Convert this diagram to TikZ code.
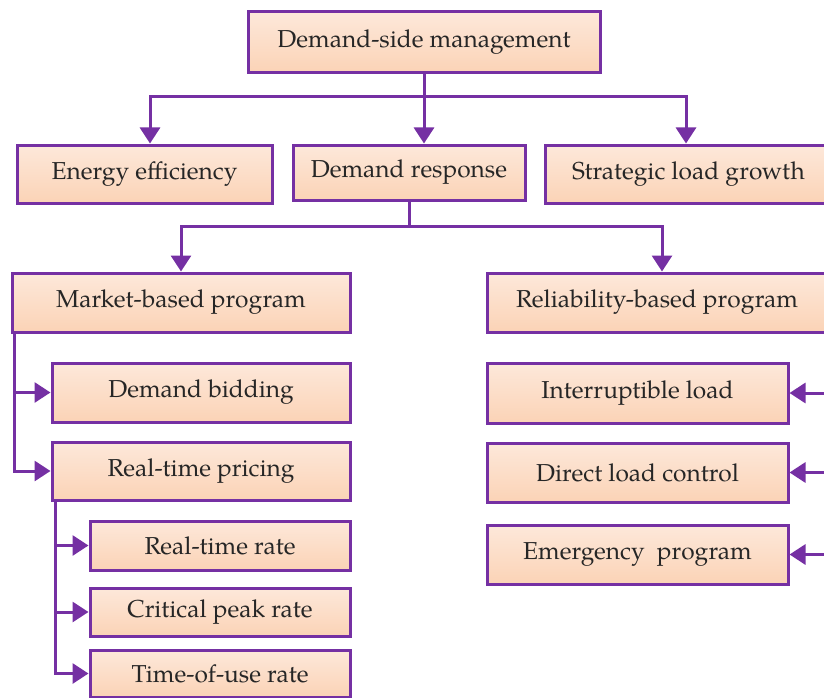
\documentclass[tikz,border=0pt]{standalone}
\usepackage{fontspec}
\setmainfont{TeX Gyre Pagella}
\usetikzlibrary{arrows.meta,shadows}
\definecolor{purp}{HTML}{7530A3}
\definecolor{peachtop}{HTML}{FDE8DA}
\definecolor{peachbot}{HTML}{FBD3B6}
\tikzset{
  box/.style={draw=purp, line width=3pt, top color=peachtop, bottom color=peachbot,
    inner sep=0pt, font=\fontsize{24.5}{28}\selectfont, text=black!85,
    drop shadow={shadow xshift=1.5pt, shadow yshift=-1.5pt, fill=black!25}},
  conn/.style={draw=purp, line width=3pt},
  arr/.style={conn, -{Triangle[length=16pt,width=20pt]}},
}
\begin{document}
\begin{tikzpicture}[x=1pt,y=-1pt]
\useasboundingbox (0,0) rectangle (824,698);
\clip (0,0) rectangle (824,698);
\node[box, minimum width=352pt, minimum height=61pt] (dsm) at (424,42.5) {Demand-side management};
\node[box, minimum width=255pt, minimum height=58pt] (ee) at (144.5,174) {Energy efficiency};
\node[box, minimum width=232pt, minimum height=55pt] (dr) at (409,172.5) {Demand response};
\node[box, minimum width=287pt, minimum height=58pt] (slg) at (688.5,174) {Strategic load growth};
\node[box, minimum width=338pt, minimum height=59pt] (mbp) at (181,302.5) {Market-based program};
\node[box, minimum width=340pt, minimum height=59pt] (rbp) at (657,302.5) {Reliability-based program};
\node[box, minimum width=298pt, minimum height=59pt] (db) at (201,392.5) {Demand bidding};
\node[box, minimum width=298pt, minimum height=58pt] (rtp) at (201,471) {Real-time pricing};
\node[box, minimum width=260pt, minimum height=49pt] (rtr) at (220,545.5) {Real-time rate};
\node[box, minimum width=260pt, minimum height=48pt] (cpr) at (220,612) {Critical peak rate};
\node[box, minimum width=260pt, minimum height=47pt] (tou) at (220,673.5) {Time-of-use rate};
\node[box, minimum width=301pt, minimum height=60pt] (il) at (637.5,393) {Interruptible load};
\node[box, minimum width=301pt, minimum height=59pt] (dlc) at (637.5,472.5) {Direct load control};
\node[box, minimum width=301pt, minimum height=59pt] (ep) at (637.5,554.5) {Emergency\ \ program};
% top level
\coordinate (j1) at (424,97);
\draw[conn] (dsm.south) -- (j1);
\draw[arr] (j1) -| (ee.north -| 150,0);
\draw[arr] (j1) -- (dr.north -| j1);
\draw[arr] (j1) -| (slg.north -| 686,0);
% demand response
\coordinate (j2) at (409,226);
\draw[conn] (dr.south) -- (j2);
\draw[arr] (j2) -| (mbp.north);
\draw[arr] (j2) -| (rbp.north -| 662,0);
% market-based
\coordinate (b1) at (14,332);
\draw[arr] (b1) |- (db.west);
\draw[arr] (b1) |- (rtp.west);
% real-time pricing
\coordinate (b2) at (55,500);
\draw[arr] (b2) |- (rtr.west);
\draw[arr] (b2) |- (cpr.west);
\draw[arr] (b2) |- (tou.west);
% reliability
\coordinate (r1) at (830,393);
\coordinate (r2) at (830,472.5);
\coordinate (r3) at (830,554.5);
\draw[arr] (r1) -- (il.east);
\draw[arr] (r2) -- (dlc.east);
\draw[arr] (r3) -- (ep.east);
\end{tikzpicture}
\end{document}
